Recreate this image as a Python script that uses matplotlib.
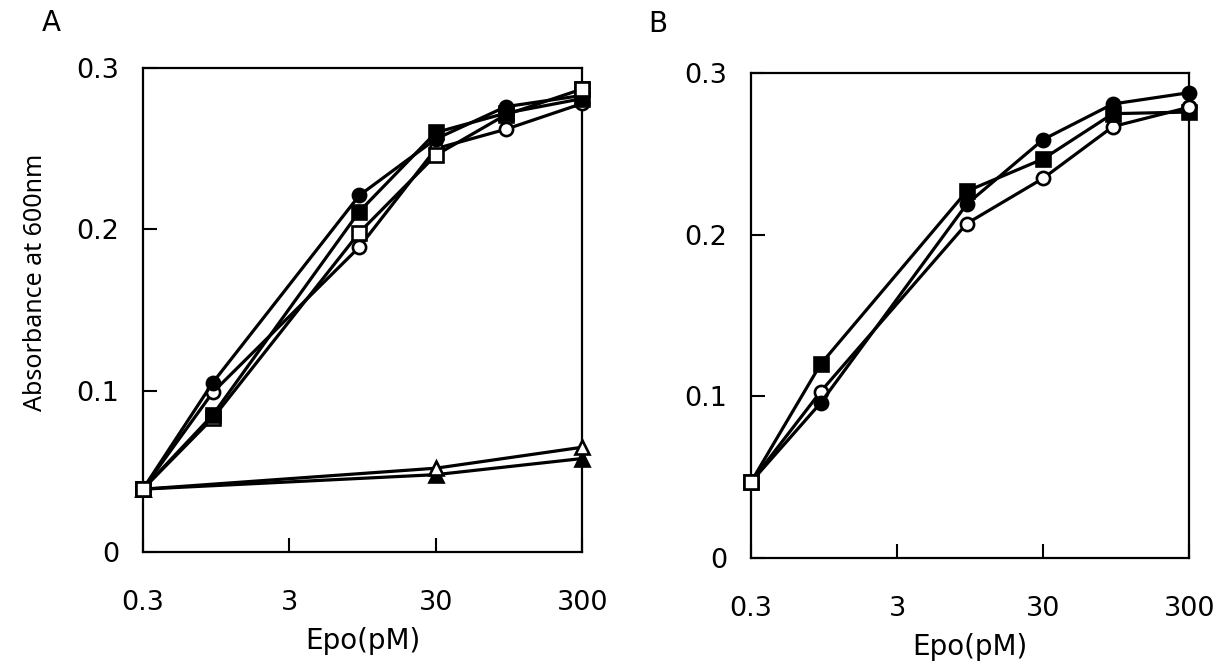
import matplotlib.pyplot as plt
from matplotlib.ticker import FixedLocator, NullLocator

plt.rcParams["font.family"] = ["DejaVu Sans"]
plt.rcParams["font.size"] = 19.5

# concentrations (pM)
epo = [0.3, 0.9, 9, 30, 90, 300]
epo_tri = [0.3, 30, 300]

# panel A
a_filled_circle = [0.039, 0.105, 0.221, 0.256, 0.276, 0.283]
a_open_circle = [0.039, 0.099, 0.189, 0.250, 0.262, 0.278]
a_filled_square = [0.039, 0.085, 0.211, 0.260, 0.272, 0.281]
a_open_square = [0.039, 0.083, 0.198, 0.246, 0.271, 0.287]
a_open_tri = [0.039, 0.052, 0.065]
a_filled_tri = [0.039, 0.048, 0.058]

# panel B
b_filled_circle = [0.047, 0.096, 0.219, 0.259, 0.281, 0.288]
b_filled_square = [0.047, 0.120, 0.227, 0.247, 0.275, 0.276]
b_open_circle = [0.047, 0.103, 0.207, 0.235, 0.267, 0.279]
b_open_square_x = [0.3]
b_open_square = [0.047]

xticks = [0.3, 3, 30, 300]
xticklabels = ["0.3", "3", "30", "300"]
yticks = [0, 0.1, 0.2, 0.3]
yticklabels = ["0", "0.1", "0.2", "0.3"]

fig = plt.figure(figsize=(12.21, 6.66), dpi=100)
axA = fig.add_axes([0.117, 0.171, 0.360, 0.727])
axB = fig.add_axes([0.615, 0.162, 0.359, 0.728])

ms = 9.5
lw = 2.3
mew = 1.9


def line(ax, x, y, marker, filled, z):
    ax.plot(x, y, color="black", linewidth=lw, marker=marker, markersize=ms,
            markeredgewidth=mew, markeredgecolor="black",
            markerfacecolor="black" if filled else "white", zorder=z,
            clip_on=False)


line(axA, epo_tri, a_filled_tri, "^", True, 3)
line(axA, epo_tri, a_open_tri, "^", False, 3)
line(axA, epo, a_open_circle, "o", False, 4)
line(axA, epo, a_open_square, "s", False, 5)
line(axA, epo, a_filled_square, "s", True, 6)
line(axA, epo, a_filled_circle, "o", True, 7)
line(axA, epo[-1:], a_open_square[-1:], "s", False, 8)
line(axA, epo[:1], a_open_square[:1], "s", False, 8)

line(axB, epo, b_open_circle, "o", False, 4)
line(axB, epo, b_filled_circle, "o", True, 5)
line(axB, epo, b_filled_square, "s", True, 6)
line(axB, epo[-1:], b_open_circle[-1:], "o", False, 7)
line(axB, b_open_square_x, b_open_square, "s", False, 8)

for ax in (axA, axB):
    ax.set_xscale("log")
    ax.set_xlim(0.3, 300)
    ax.set_ylim(0, 0.3)
    ax.xaxis.set_major_locator(FixedLocator(xticks))
    ax.xaxis.set_minor_locator(NullLocator())
    ax.set_xticklabels(xticklabels)
    ax.set_yticks(yticks)
    ax.set_yticklabels(yticklabels)
    ax.tick_params(axis="x", direction="in", length=10, width=1.5, pad=27)
    ax.tick_params(axis="y", direction="in", length=10, width=1.5, pad=17)
    for s in ax.spines.values():
        s.set_linewidth(1.6)
    ax.set_xlabel("Epo(pM)", labelpad=8, fontsize=20)

fig.text(0.029, 1 - 282 / 666, "Absorbance at 600nm", rotation=90,
         ha="center", va="center", fontsize=18, family=["Noto Sans", "DejaVu Sans"])
fig.text(51 / 1221, 1 - 23 / 666, "A", ha="center", va="center", fontsize=20)
fig.text(658 / 1221, 1 - 24 / 666, "B", ha="center", va="center", fontsize=20)

plt.savefig("out.png", dpi=100)
plt.close()
